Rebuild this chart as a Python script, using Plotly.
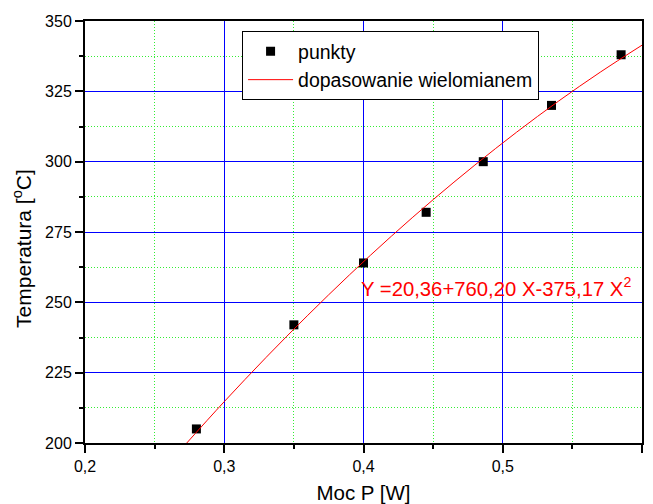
import plotly.graph_objects as go

# measured points
moc_p = [0.28, 0.35, 0.40, 0.445, 0.486, 0.535, 0.585]
temperatura = [205, 242, 264, 282, 300, 320, 338]

# fitted polynomial curve
fit_x = [0.27, 0.30, 0.33, 0.36, 0.39, 0.42, 0.45, 0.48, 0.51, 0.54, 0.57, 0.60]
fit_y = [198.3, 214.7, 230.4, 245.4, 259.8, 273.5, 286.5, 298.8, 310.5, 321.5, 331.8, 341.4]

x_ticks = [0.2, 0.3, 0.4, 0.5, 0.6]
y_ticks = [200, 225, 250, 275, 300, 325, 350]

equation = "Y =20,36+760,20 X-375,17 X<sup>2</sup>"
y_title = "Temperatura [<sup>o</sup>C]"
x_title = "Moc P [W]"

font = "Liberation Sans, Arial, sans-serif"
minor_green = "#33ee33"

fig = go.Figure()
fig.add_trace(go.Scatter(
    x=moc_p, y=temperatura, mode="markers", name="punkty",
    marker=dict(symbol="square", size=9, color="black"),
))
fig.add_trace(go.Scatter(
    x=fit_x, y=fit_y, mode="lines", name="dopasowanie wielomianem",
    line=dict(color="red", width=1, shape="spline"),
))

fig.add_annotation(
    x=0.397, y=255.5, xref="x", yref="y", text=equation, showarrow=False,
    xanchor="left", yanchor="middle",
    font=dict(family=font, size=20.3, color="red"),
)

# y-axis title, placed slightly below the plot centre as in the reference
fig.add_annotation(
    x=0, y=0.46, xref="paper", yref="paper", text=y_title, showarrow=False,
    textangle=-90, xanchor="center", yanchor="middle", xshift=-63,
    font=dict(family=font, size=21, color="black"),
)

# the page body adds an 8 px offset, so the figure is sized/margined to compensate
fig.update_layout(
    width=645, height=496,
    margin=dict(l=77, r=11, t=13, b=61),
    plot_bgcolor="white", paper_bgcolor="white",
    separators=", ",
    font=dict(family=font, size=16, color="black"),
    showlegend=True,
    legend=dict(
        x=0.282, y=0.976, xanchor="left", yanchor="top",
        bordercolor="black", borderwidth=1, bgcolor="white",
        font=dict(family=font, size=19.5),
        itemwidth=45, tracegroupgap=0,
    ),
)

fig.update_xaxes(
    range=[0.2, 0.6], tickvals=x_ticks, tickformat=".1f", automargin=False,
    showline=True, linecolor="black", linewidth=2, mirror=True,
    ticks="outside", ticklen=8, tickwidth=2, tickcolor="black",
    showgrid=True, gridcolor="#0000ff", gridwidth=1,
    minor=dict(dtick=0.05, ticks="outside", ticklen=4, tickwidth=2, tickcolor="black",
               showgrid=True, gridcolor=minor_green, griddash="1px,2px", gridwidth=1),
    zeroline=False,
    title=dict(text=x_title, font=dict(family=font, size=20.5), standoff=17),
    tickfont=dict(family=font, size=16),
)
fig.update_yaxes(
    range=[200, 350], tickvals=y_ticks, automargin=False,
    showline=True, linecolor="black", linewidth=2, mirror=True,
    ticks="outside", ticklen=8, tickwidth=2, tickcolor="black",
    showgrid=True, gridcolor="#0000ff", gridwidth=1,
    minor=dict(dtick=12.5, ticks="outside", ticklen=4, tickwidth=2, tickcolor="black",
               showgrid=True, gridcolor=minor_green, griddash="1px,2px", gridwidth=1),
    zeroline=False,
    tickfont=dict(family=font, size=16),
)

fig.write_html("out.html")
